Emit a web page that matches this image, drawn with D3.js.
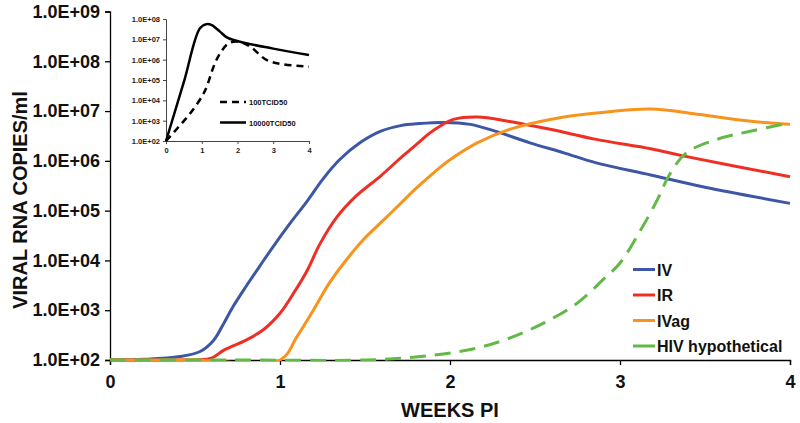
<!DOCTYPE html>
<html>
<head>
<meta charset="utf-8">
<script src="https://cdn.jsdelivr.net/npm/d3@7"></script>
<style>
  html, body { margin: 0; padding: 0; background: #fff; }
  svg { display: block; font-family: "Liberation Sans", Arial, sans-serif; }
</style>
</head>
<body>
<svg id="chart" width="800" height="423"></svg>
<script>
// ---- Main chart data (weeks post infection, viral RNA copies/ml) ----
const ivWeeks   = [0, 0.2, 0.41, 0.53, 0.61, 0.67, 0.725, 0.80, 0.88, 0.96, 1.06, 1.16, 1.25, 1.35, 1.47, 1.59, 1.71, 1.82, 1.96, 2.12, 2.27, 2.47, 2.67, 2.86, 3.18, 3.5, 4.0];
const ivValues  = [100, 103, 117, 148, 250, 550, 1.2e3, 3.0e3, 7.6e3, 1.9e4, 5.6e4, 1.55e5, 4.2e5, 1.05e6, 2.3e6, 3.9e6, 5.1e6, 5.6e6, 5.9e6, 5.4e6, 3.9e6, 2.3e6, 1.45e6, 9.1e5, 5.2e5, 2.95e5, 1.4e5];

const irWeeks   = [0, 0.41, 0.59, 0.67, 0.80, 0.90, 1.0, 1.08, 1.16, 1.235, 1.33, 1.45, 1.59, 1.71, 1.76, 1.82, 1.88, 1.95, 2.02, 2.16, 2.35, 2.59, 2.86, 3.18, 3.37, 4.0];
const irValues  = [100, 100, 107, 158, 251, 400, 870, 2.2e3, 6.3e3, 2.15e4, 7.1e4, 2.0e5, 4.9e5, 1.15e6, 1.6e6, 2.4e6, 3.6e6, 5.2e6, 6.8e6, 7.6e6, 6.2e6, 4.3e6, 2.7e6, 1.75e6, 1.26e6, 4.8e5];

const ivagWeeks  = [0, 0.5, 1.0, 1.10, 1.196, 1.29, 1.39, 1.49, 1.59, 1.71, 1.80, 1.88, 2.0, 2.16, 2.35, 2.59, 2.86, 3.18, 3.47, 3.76, 4.0];
const ivagValues = [100, 100, 100, 295, 1.0e3, 3.5e3, 1.02e4, 2.6e4, 5.6e4, 1.4e5, 2.8e5, 4.9e5, 1.05e6, 2.3e6, 4.3e6, 6.8e6, 9.1e6, 1.1e7, 8.5e6, 6.3e6, 5.4e6];

const hivWeeks  = [0, 0.75, 1.5, 1.76, 1.96, 2.16, 2.35, 2.55, 2.75, 2.90, 3.0, 3.12, 3.22, 3.29, 3.39, 3.57, 3.76, 4.0];
const hivValues = [100, 100, 100, 112, 132, 174, 275, 550, 1.4e3, 4.1e3, 8.9e3, 4.0e4, 1.66e5, 5.2e5, 1.45e6, 2.7e6, 3.9e6, 5.8e6];

const seriesNames = ["IV", "IR", "IVag", "HIV hypothetical"];
const seriesColors = ["#3d56a6", "#ee2f24", "#f7941d", "#63b947"];

const xTicks = [0, 1, 2, 3, 4];
const yTicks = [1e2, 1e3, 1e4, 1e5, 1e6, 1e7, 1e8, 1e9];
const yTickLabels = ["1.0E+02", "1.0E+03", "1.0E+04", "1.0E+05", "1.0E+06", "1.0E+07", "1.0E+08", "1.0E+09"];

// ---- Inset data ----
const insetLowWeeks   = [0, 0.35, 0.67, 1.0, 1.14, 1.33, 1.51, 1.75, 2.03, 2.35, 2.82, 3.29, 4.0];
const insetLowValues  = [100, 490, 2.2e3, 1.5e4, 4.7e4, 4.5e5, 2.0e6, 6.3e6, 7.6e6, 4.4e6, 9.5e5, 5.9e5, 4.5e5];
const insetHighWeeks  = [0, 0.5, 0.95, 1.14, 1.28, 1.51, 1.70, 2.07, 3.0, 4.0];
const insetHighValues = [100, 8e4, 3.5e7, 5.6e7, 5.0e7, 2.4e7, 1.26e7, 7.6e6, 3.5e6, 1.7e6];
const insetNames = ["100TCID50", "10000TCID50"];
const insetXTicks = [0, 1, 2, 3, 4];
const insetYTicks = [1e2, 1e3, 1e4, 1e5, 1e6, 1e7, 1e8];
const insetYTickLabels = ["1.0E+02", "1.0E+03", "1.0E+04", "1.0E+05", "1.0E+06", "1.0E+07", "1.0E+08"];

// ---- Drawing ----
const svg = d3.select("#chart");

const x = d3.scaleLinear().domain([0, 4]).range([110, 790]);
const y = d3.scaleLog().domain([1e2, 1e9]).range([360, 11.5]);

const zip = (ws, vs) => ws.map((w, i) => ({ w, v: vs[i] }));
const seriesData = [
  zip(ivWeeks, ivValues),
  zip(irWeeks, irValues),
  zip(ivagWeeks, ivagValues),
  zip(hivWeeks, hivValues)
];

svg.append("defs").append("clipPath").attr("id", "plotclip")
  .append("rect").attr("x", 100).attr("y", 0).attr("width", 700).attr("height", 361.5);

// Axes
const yAxis = d3.axisLeft(y).tickValues(yTicks)
  .tickFormat((d, i) => yTickLabels[i]).tickSize(5).tickPadding(5);
const gy = svg.append("g").attr("transform", "translate(110,0)").call(yAxis);
gy.select(".domain").attr("stroke", "#000").attr("stroke-width", 1.3);
gy.selectAll(".tick line").attr("stroke", "#000").attr("stroke-width", 1.3);
gy.selectAll(".tick text").attr("font-size", 18).attr("font-weight", "bold")
  .attr("fill", "#111").attr("font-family", "Liberation Sans, Arial, sans-serif");

const xAxis = d3.axisBottom(x).tickValues(xTicks).tickFormat(d3.format("d"))
  .tickSize(5).tickPadding(10);
const gx = svg.append("g").attr("transform", "translate(0,360)").call(xAxis);
gx.select(".domain").attr("stroke", "#000").attr("stroke-width", 1.3);
gx.selectAll(".tick line").attr("stroke", "#000").attr("stroke-width", 1.3);
gx.selectAll(".tick text").attr("font-size", 18).attr("font-weight", "bold")
  .attr("fill", "#111").attr("font-family", "Liberation Sans, Arial, sans-serif");

// Lines
const line = d3.line().x(d => x(d.w)).y(d => y(d.v)).curve(d3.curveCatmullRom.alpha(0.5));
const plot = svg.append("g").attr("clip-path", "url(#plotclip)");
seriesData.forEach((data, i) => {
  plot.append("path")
    .datum(data)
    .attr("fill", "none")
    .attr("stroke", seriesColors[i])
    .attr("stroke-width", 3)
    .attr("stroke-dasharray", i === 3 ? "16,9" : null)
    .attr("d", line);
});

// Axis titles
svg.append("text")
  .attr("x", 450).attr("y", 417)
  .attr("text-anchor", "middle")
  .attr("font-size", 20).attr("font-weight", "bold").attr("fill", "#111")
  .text("WEEKS PI");

svg.append("text")
  .attr("transform", "translate(27,200) rotate(-90)")
  .attr("text-anchor", "middle")
  .attr("font-size", 20).attr("font-weight", "bold").attr("fill", "#111")
  .text("VIRAL RNA COPIES/ml");

// Legend
const legendY = [269.5, 295, 320.5, 346];
seriesNames.forEach((name, i) => {
  const g = svg.append("g");
  g.append("line")
    .attr("x1", 633).attr("x2", 655)
    .attr("y1", legendY[i]).attr("y2", legendY[i])
    .attr("stroke", seriesColors[i]).attr("stroke-width", 3);
  g.append("text")
    .attr("x", 657).attr("y", legendY[i] + 6)
    .attr("font-size", 16).attr("font-weight", "bold").attr("fill", "#111")
    .text(name);
});

// ---- Inset ----
const ix = d3.scaleLinear().domain([0, 4]).range([166, 309]);
const iy = d3.scaleLog().domain([1e2, 1e8]).range([141, 19]);

const iyAxis = d3.axisLeft(iy).tickValues(insetYTicks)
  .tickFormat((d, i) => insetYTickLabels[i]).tickSize(3).tickPadding(3);
const giy = svg.append("g").attr("transform", "translate(166,0)").call(iyAxis);
giy.select(".domain").attr("stroke", "#444").attr("stroke-width", 1);
giy.selectAll(".tick line").attr("stroke", "#444");
giy.selectAll(".tick text").attr("font-size", 7.5).attr("font-weight", "bold").attr("fill", "#222");

const ixAxis = d3.axisBottom(ix).tickValues(insetXTicks).tickFormat(d3.format("d"))
  .tickSize(3).tickPadding(4);
const gix = svg.append("g").attr("transform", "translate(0,141)").call(ixAxis);
gix.select(".domain").attr("stroke", "#444").attr("stroke-width", 1);
gix.selectAll(".tick line").attr("stroke", "#444");
gix.selectAll(".tick text").attr("font-size", 7.5).attr("font-weight", "bold").attr("fill", "#222");

const iline = d3.line().x(d => ix(d.w)).y(d => iy(d.v)).curve(d3.curveCatmullRom.alpha(0.5));
svg.append("path").datum(zip(insetLowWeeks, insetLowValues))
  .attr("fill", "none").attr("stroke", "#000").attr("stroke-width", 2.5)
  .attr("stroke-dasharray", "7,5").attr("d", iline);
svg.append("path").datum(zip(insetHighWeeks, insetHighValues))
  .attr("fill", "none").attr("stroke", "#000").attr("stroke-width", 2.5)
  .attr("d", iline);

// Inset legend
const insetLegendY = [102, 122.5];
insetNames.forEach((name, i) => {
  svg.append("line")
    .attr("x1", 220).attr("x2", 246)
    .attr("y1", insetLegendY[i]).attr("y2", insetLegendY[i])
    .attr("stroke", "#000").attr("stroke-width", 2.5)
    .attr("stroke-dasharray", i === 0 ? "7,5" : null);
  svg.append("text")
    .attr("x", 249).attr("y", insetLegendY[i] + 3)
    .attr("font-size", 7.5).attr("font-weight", "bold").attr("fill", "#111")
    .text(name);
});
</script>
</body>
</html>
